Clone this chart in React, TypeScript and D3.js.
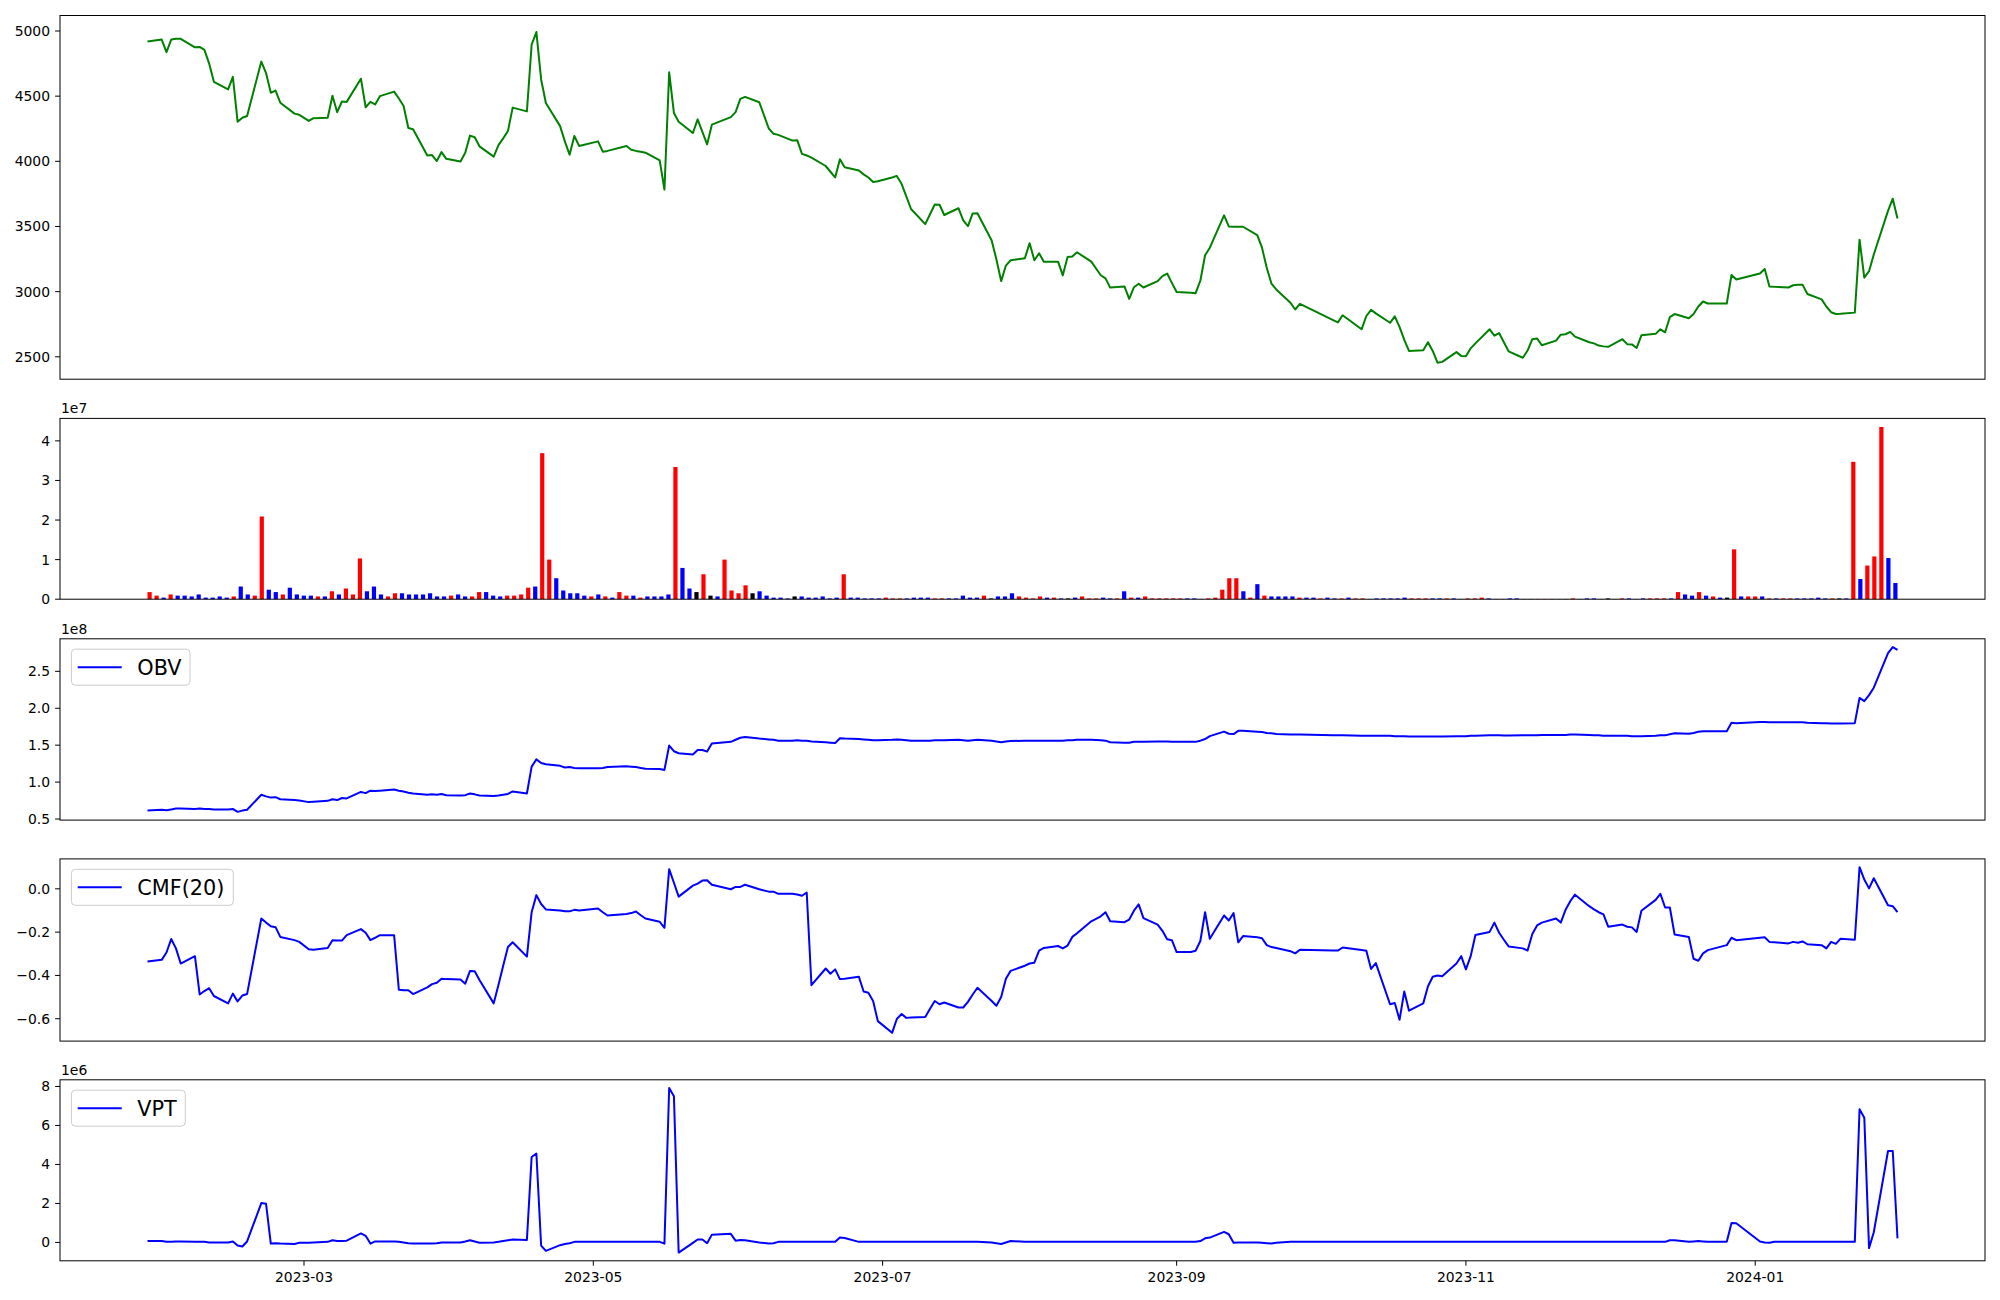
import * as d3 from 'd3';

const WIDTH = 2000;
const HEIGHT = 1300;
const LEFT = 60;
const RIGHT = 1985;
const FONT = 'DejaVu Sans, sans-serif';
const TICK_FONT = 13.9;
const LEGEND_FONT = 20.8;
const BAR_W = 0.6; // bar width in index units

// vertical extent of every panel
const PANELS = {
  price: { top: 15.5, bottom: 379.2 },
  volume: { top: 418.4, bottom: 599.2 },
  obv: { top: 638.8, bottom: 820.1 },
  cmf: { top: 858.9, bottom: 1041.1 },
  vpt: { top: 1079.8, bottom: 1260.8 },
};

// trading calendar (KRX)
const FIRST_DAY = '2023-01-27';
const LAST_DAY = '2024-01-31';
const HOLIDAYS = [
  '2023-03-01', '2023-05-01', '2023-05-05', '2023-05-29', '2023-06-06', '2023-08-15',
  '2023-09-28', '2023-09-29', '2023-10-02', '2023-10-03', '2023-10-09', '2023-12-25',
  '2023-12-29', '2024-01-01',
];
const X_TICKS = ['2023-03-01', '2023-05-01', '2023-07-01', '2023-09-01', '2023-11-01', '2024-01-01'];

// close price
const PRICE = [
  4919, 4934, 4838, 4934, 4940, 4940, 4875, 4878, 4855, 4750,
  4610, 4552, 4648, 4304, 4334, 4348, 4765, 4677, 4526, 4543,
  4450, 4366, 4357, 4310, 4331, 4334, 4503, 4377, 4459, 4456,
  4634, 4415, 4456, 4436, 4500, 4535, 4482, 4424, 4255, 4246,
  4045, 4048, 4002, 4071, 4019, 3999, 4066, 4197, 4185, 4115,
  4036, 4124, 4176, 4232, 4412, 4383, 4896, 4992, 4628, 4447,
  4270, 4153, 4051, 4194, 4118, 4153, 4074, 4080, 4118, 4089,
  4080, 4074, 4066, 4007, 3783, 4683, 4371, 4304, 4217, 4322,
  4226, 4130, 4281, 4339, 4377, 4479, 4494, 4453, 4252, 4211,
  4203, 4159, 4162, 4057, 4045, 4028, 3964, 3920, 3876, 4016,
  3955, 3929, 3900, 3876, 3841, 3847, 3876, 3888, 3827, 3731,
  3634, 3518, 3594, 3669, 3667, 3588, 3640, 3547, 3503, 3600,
  3602, 3393, 3247, 3081, 3200, 3241, 3256, 3372, 3241, 3294,
  3230, 3230, 3125, 3265, 3270, 3302, 3230, 3126, 3102, 3031,
  3040, 2944, 3034, 3061, 3032, 3081, 3119, 3139, 3067, 2997,
  2991, 2988, 3084, 3279, 3337, 3585, 3500, 3498, 3498, 3498,
  3434, 3337, 3183, 3061, 3017, 2915, 2863, 2906, 2781, 2764,
  2819, 2711, 2813, 2860, 2833, 2761, 2810, 2730, 2630, 2545,
  2551, 2612, 2545, 2455, 2461, 2536, 2507, 2504, 2565, 2603,
  2711, 2662, 2682, 2612, 2542, 2493, 2548, 2635, 2641, 2589,
  2624, 2670, 2673, 2691, 2655, 2612, 2603, 2586, 2580, 2577,
  2635, 2597, 2595, 2568, 2665, 2676, 2711, 2688, 2804, 2828,
  2796, 2828, 2886, 2924, 2909, 2909, 3128, 3093, 3139, 3174,
  3040, 3037, 3032, 3049, 3052, 3052, 2982, 2941, 2886, 2842,
  2828, 2830, 2839, 3399, 3107, 3157, 3285, 3620, 3713, 3562,
];

// volume, millions of shares
const VOLUME_M = [
  1.8, 0.9, 0.4, 1.2, 0.9, 0.9, 0.7, 1.2, 0.4, 0.4,
  0.7, 0.4, 0.7, 3.2, 1.2, 0.9, 20.9, 2.4, 1.8, 1.2,
  2.9, 1.2, 0.9, 0.9, 0.7, 0.7, 2.0, 1.2, 2.7, 1.2,
  10.3, 2.0, 3.2, 1.2, 0.7, 1.5, 1.5, 1.2, 1.2, 1.2,
  1.5, 0.7, 0.7, 0.9, 1.2, 0.7, 0.7, 1.8, 1.8, 0.9,
  0.7, 0.9, 0.9, 1.2, 2.9, 3.2, 36.9, 10.0, 5.3, 2.2,
  1.5, 1.5, 0.9, 0.7, 1.2, 0.7, 0.4, 1.8, 0.9, 0.9,
  0.4, 0.7, 0.7, 0.7, 1.2, 33.4, 7.9, 2.7, 1.8, 6.3,
  0.9, 0.7, 10.0, 2.2, 1.5, 3.5, 1.5, 2.0, 0.9, 0.4,
  0.4, 0.2, 0.7, 0.7, 0.4, 0.4, 0.7, 0.2, 0.4, 6.3,
  0.4, 0.4, 0.2, 0.2, 0.2, 0.4, 0.2, 0.2, 0.2, 0.4,
  0.4, 0.4, 0.2, 0.2, 0.2, 0.2, 0.9, 0.4, 0.4, 0.9,
  0.2, 0.7, 0.7, 1.5, 0.7, 0.4, 0.2, 0.7, 0.4, 0.4,
  0.2, 0.2, 0.4, 0.7, 0.2, 0.2, 0.4, 0.2, 0.2, 2.0,
  0.4, 0.4, 0.7, 0.2, 0.2, 0.2, 0.2, 0.2, 0.2, 0.2,
  0.05, 0.2, 0.4, 2.4, 5.3, 5.3, 2.0, 0.4, 3.8, 0.9,
  0.7, 0.7, 0.7, 0.7, 0.4, 0.4, 0.4, 0.2, 0.4, 0.2,
  0.2, 0.4, 0.2, 0.2, 0.05, 0.2, 0.2, 0.2, 0.2, 0.4,
  0.2, 0.2, 0.2, 0.2, 0.2, 0.2, 0.2, 0.05, 0.2, 0.2,
  0.4, 0.2, 0.05, 0.05, 0.2, 0.2, 0.05, 0.05, 0.05, 0.05,
  0.05, 0.05, 0.05, 0.2, 0.05, 0.2, 0.2, 0.05, 0.2, 0.05,
  0.2, 0.2, 0.05, 0.2, 0.2, 0.2, 0.2, 0.2, 1.8, 1.2,
  0.9, 1.8, 0.9, 0.7, 0.4, 0.4, 12.6, 0.7, 0.7, 0.7,
  0.7, 0.2, 0.2, 0.2, 0.2, 0.2, 0.2, 0.2, 0.4, 0.2,
  0.2, 0.2, 0.2, 34.7, 5.1, 8.5, 10.8, 43.5, 10.4, 4.1,
];

// bar colour per day: r = up, b = down, k = flat
const BAR_KIND = [
  'rrbrbbbbbb', 'bbrbbrrbbr', 'bbbbrbrbrr', 'rbbbrrbbbb', 'bbbrbbrrbb',
  'brrrrbrrbb', 'bbbrbrbrrb', 'rbbbbrbbkr', 'kbrrrrkbbb', 'bbkbbbbbbr',
  'bbbbbrrrbb', 'bbrrbbbbbr', 'kbbbrrrrbr', 'bkbrrrbbrb', 'rbrrrrrrbb',
  'brrrrrbrbr', 'bbbbrbbrbb', 'rbrrbbbbbb', 'rrrbbrbbrr', 'rbbrbbrbrr',
  'rrbrbbbbkb', 'rbbbrrrbrb', 'brbrbkrbrr', 'brbrrbbbbb', 'rkbrbrrrbb',
].join('');
const KIND_COLOR: Record<string, string> = { r: '#ff0000', b: '#0000ff', k: '#000000' };

// on-balance volume, 1e8
const OBV_E8 = [
  0.614, 0.625, 0.619, 0.630, 0.641, 0.641, 0.636, 0.641, 0.636, 0.636,
  0.630, 0.630, 0.636, 0.597, 0.614, 0.625, 0.829, 0.807, 0.790, 0.796,
  0.768, 0.757, 0.752, 0.729, 0.735, 0.746, 0.768, 0.757, 0.785, 0.779,
  0.867, 0.851, 0.884, 0.878, 0.884, 0.900, 0.884, 0.873, 0.856, 0.845,
  0.829, 0.834, 0.829, 0.840, 0.823, 0.818, 0.823, 0.845, 0.834, 0.818,
  0.812, 0.818, 0.829, 0.840, 0.873, 0.845, 1.209, 1.308, 1.258, 1.242,
  1.220, 1.198, 1.203, 1.192, 1.187, 1.187, 1.192, 1.203, 1.214, 1.209,
  1.203, 1.192, 1.181, 1.176, 1.165, 1.495, 1.418, 1.391, 1.374, 1.435,
  1.435, 1.413, 1.523, 1.545, 1.573, 1.600, 1.611, 1.589, 1.578, 1.573,
  1.561, 1.561, 1.567, 1.561, 1.561, 1.550, 1.539, 1.534, 1.528, 1.594,
  1.589, 1.583, 1.578, 1.573, 1.567, 1.567, 1.573, 1.578, 1.573, 1.567,
  1.561, 1.561, 1.561, 1.567, 1.567, 1.567, 1.573, 1.567, 1.561, 1.567,
  1.573, 1.561, 1.550, 1.539, 1.550, 1.556, 1.561, 1.561, 1.561, 1.561,
  1.561, 1.561, 1.561, 1.567, 1.567, 1.573, 1.573, 1.567, 1.561, 1.539,
  1.534, 1.534, 1.545, 1.545, 1.545, 1.550, 1.550, 1.550, 1.545, 1.545,
  1.545, 1.545, 1.561, 1.583, 1.622, 1.683, 1.655, 1.650, 1.694, 1.694,
  1.683, 1.677, 1.666, 1.661, 1.650, 1.644, 1.644, 1.644, 1.633, 1.633,
  1.633, 1.627, 1.627, 1.627, 1.627, 1.627, 1.622, 1.622, 1.622, 1.616,
  1.616, 1.616, 1.616, 1.616, 1.616, 1.622, 1.622, 1.622, 1.627, 1.627,
  1.633, 1.633, 1.633, 1.630, 1.630, 1.633, 1.633, 1.633, 1.633, 1.638,
  1.638, 1.638, 1.638, 1.644, 1.644, 1.638, 1.633, 1.633, 1.627, 1.627,
  1.627, 1.627, 1.622, 1.622, 1.622, 1.627, 1.633, 1.633, 1.649, 1.661,
  1.655, 1.666, 1.683, 1.688, 1.688, 1.688, 1.804, 1.798, 1.815, 1.815,
  1.809, 1.809, 1.809, 1.809, 1.809, 1.809, 1.804, 1.798, 1.798, 1.793,
  1.793, 1.793, 1.798, 2.140, 2.096, 2.178, 2.278, 2.746, 2.829, 2.790,
];

// Chaikin money flow, 20 days
const CMF = [
  -0.336, -0.328, -0.294, -0.232, -0.275, -0.345, -0.311, -0.488, -0.472, -0.459,
  -0.495, -0.529, -0.484, -0.520, -0.493, -0.486, -0.137, -0.156, -0.173, -0.177,
  -0.222, -0.237, -0.245, -0.279, -0.281, -0.273, -0.237, -0.239, -0.239, -0.214,
  -0.186, -0.203, -0.237, -0.226, -0.214, -0.214, -0.466, -0.468, -0.468, -0.486,
  -0.455, -0.440, -0.434, -0.415, -0.417, -0.419, -0.438, -0.379, -0.381, -0.421,
  -0.529, -0.444, -0.355, -0.269, -0.247, -0.313, -0.108, -0.029, -0.070, -0.095,
  -0.100, -0.104, -0.104, -0.097, -0.100, -0.091, -0.108, -0.123, -0.116, -0.112,
  -0.105, -0.122, -0.137, -0.152, -0.180, 0.091, 0.028, -0.036, 0.015, 0.024,
  0.038, 0.040, 0.019, -0.002, 0.009, 0.009, 0.019, -0.002, -0.013, -0.013,
  -0.023, -0.023, -0.026, -0.032, -0.017, -0.445, -0.368, -0.392, -0.372, -0.417,
  -0.415, -0.406, -0.474, -0.480, -0.518, -0.611, -0.665, -0.601, -0.578, -0.596,
  -0.594, -0.592, -0.554, -0.518, -0.533, -0.525, -0.548, -0.548, -0.522, -0.488,
  -0.457, -0.518, -0.540, -0.500, -0.415, -0.379, -0.355, -0.345, -0.341, -0.285,
  -0.273, -0.264, -0.275, -0.262, -0.222, -0.205, -0.150, -0.127, -0.108, -0.150,
  -0.154, -0.142, -0.101, -0.072, -0.135, -0.165, -0.194, -0.233, -0.237, -0.292,
  -0.292, -0.286, -0.241, -0.108, -0.231, -0.123, -0.146, -0.112, -0.247, -0.218,
  -0.224, -0.228, -0.260, -0.269, -0.273, -0.288, -0.298, -0.281, -0.285, -0.285,
  -0.271, -0.283, -0.286, -0.370, -0.343, -0.533, -0.527, -0.605, -0.474, -0.563,
  -0.529, -0.450, -0.406, -0.400, -0.404, -0.345, -0.311, -0.372, -0.311, -0.213,
  -0.199, -0.156, -0.203, -0.235, -0.266, -0.275, -0.285, -0.209, -0.169, -0.156,
  -0.137, -0.156, -0.097, -0.057, -0.027, -0.080, -0.095, -0.108, -0.118, -0.175,
  -0.165, -0.175, -0.178, -0.199, -0.101, -0.051, -0.023, -0.086, -0.086, -0.211,
  -0.222, -0.323, -0.332, -0.298, -0.283, -0.260, -0.226, -0.237, -0.226, -0.224,
  -0.245, -0.247, -0.252, -0.245, -0.249, -0.243, -0.256, -0.260, -0.275, -0.245,
  -0.254, -0.230, -0.235, 0.100, 0.043, 0.002, 0.049, -0.076, -0.080, -0.108,
];

// volume price trend, 1e6
const VPT_E6 = [
  0.07, 0.07, 0.03, 0.03, 0.05, 0.05, 0.03, 0.03, 0.03, 0.00,
  0.00, 0.00, 0.05, -0.16, -0.21, 0.05, 2.02, 1.98, -0.06, -0.04,
  -0.06, -0.08, -0.02, -0.02, 0.00, 0.03, 0.11, 0.07, 0.07, 0.09,
  0.46, 0.34, -0.06, 0.05, 0.05, 0.05, 0.03, 0.00, -0.04, -0.06,
  -0.06, -0.06, -0.04, 0.00, 0.00, 0.00, 0.05, 0.11, 0.05, -0.02,
  0.00, 0.03, 0.07, 0.11, 0.15, 0.13, 4.38, 4.56, -0.16, -0.43,
  -0.14, -0.08, -0.04, 0.03, 0.03, 0.03, 0.03, 0.03, 0.03, 0.03,
  0.03, 0.03, 0.03, 0.03, -0.06, 7.92, 7.50, -0.52, -0.02, 0.15,
  0.15, -0.04, 0.40, 0.44, 0.09, 0.13, 0.11, 0.00, -0.06, -0.04,
  0.03, 0.03, 0.03, 0.03, 0.03, 0.03, 0.03, 0.03, 0.03, 0.25,
  0.23, 0.03, 0.03, 0.03, 0.03, 0.03, 0.03, 0.03, 0.03, 0.03,
  0.03, 0.03, 0.03, 0.03, 0.03, 0.03, 0.03, 0.03, 0.03, 0.03,
  0.03, 0.00, -0.04, -0.08, 0.00, 0.07, 0.03, 0.03, 0.03, 0.03,
  0.03, 0.03, 0.03, 0.03, 0.03, 0.03, 0.03, 0.03, 0.03, 0.03,
  0.03, 0.03, 0.03, 0.03, 0.03, 0.03, 0.03, 0.03, 0.03, 0.03,
  0.03, 0.03, 0.07, 0.21, 0.25, 0.54, 0.42, -0.02, 0.00, 0.00,
  0.00, -0.02, -0.04, -0.06, -0.02, 0.03, 0.03, 0.03, 0.03, 0.03,
  0.03, 0.03, 0.03, 0.03, 0.03, 0.03, 0.03, 0.03, 0.03, 0.03,
  0.03, 0.03, 0.03, 0.03, 0.03, 0.03, 0.03, 0.03, 0.03, 0.03,
  0.03, 0.03, 0.03, 0.03, 0.03, 0.03, 0.03, 0.03, 0.03, 0.03,
  0.03, 0.03, 0.03, 0.03, 0.03, 0.03, 0.03, 0.03, 0.03, 0.03,
  0.03, 0.03, 0.03, 0.03, 0.03, 0.03, 0.03, 0.03, 0.11, 0.11,
  0.03, 0.05, 0.07, 0.05, 0.03, 0.03, 1.00, 0.98, 0.05, 0.00,
  -0.02, 0.03, 0.03, 0.03, 0.03, 0.03, 0.03, 0.03, 0.03, 0.03,
  0.03, 0.03, 0.03, 6.83, 6.40, -0.29, 0.52, 4.69, 4.69, 0.21,
];

const PRICE_TICKS = [2500, 3000, 3500, 4000, 4500, 5000];
const VOLUME_TICKS = [0, 1, 2, 3, 4]; // 1e7
const OBV_TICKS = [0.5, 1.0, 1.5, 2.0, 2.5]; // 1e8
const CMF_TICKS = [-0.6, -0.4, -0.2, 0.0];
const VPT_TICKS = [0, 2, 4, 6, 8]; // 1e6

const parseDay = d3.utcParse('%Y-%m-%d');
const fmtDay = d3.utcFormat('%Y-%m-%d');

const DATES: Date[] = d3.utcDay
  .range(parseDay(FIRST_DAY)!, d3.utcDay.offset(parseDay(LAST_DAY)!, 1))
  .filter((d) => d.getUTCDay() % 6 !== 0 && !HOLIDAYS.includes(fmtDay(d)));

// matplotlib style 5% padding
const padded = (vals: number[]): [number, number] => {
  const [lo, hi] = d3.extent(vals) as [number, number];
  const m = (hi - lo) * 0.05;
  return [lo - m, hi + m];
};

type Scale = d3.ScaleLinear<number, number>;

const YAxis = ({ y, ticks, format }: { y: Scale; ticks: number[]; format: (v: number) => string }) => (
  <g>
    {ticks.map((t) => (
      <g key={t}>
        <line x1={LEFT - 4.9} x2={LEFT} y1={y(t)} y2={y(t)} stroke="#000" strokeWidth={1} />
        <text x={LEFT - 10} y={y(t) + 5} textAnchor="end" fontSize={TICK_FONT}>
          {format(t)}
        </text>
      </g>
    ))}
  </g>
);

const Legend = ({ top, label, width }: { top: number; label: string; width: number }) => (
  <g>
    <rect
      x={LEFT + 11.4}
      y={top + 10.4}
      width={width}
      height={36}
      rx={4}
      fill="#ffffff"
      fillOpacity={0.8}
      stroke="#cccccc"
      strokeWidth={1}
    />
    <line x1={LEFT + 17.7} x2={LEFT + 61.7} y1={top + 28.4} y2={top + 28.4} stroke="#0000ff" strokeWidth={2} />
    <text x={LEFT + 77.3} y={top + 36} fontSize={LEGEND_FONT}>
      {label}
    </text>
  </g>
);

const Frame = ({ top, bottom }: { top: number; bottom: number }) => (
  <rect x={LEFT} y={top} width={RIGHT - LEFT} height={bottom - top} fill="none" stroke="#000" strokeWidth={1} />
);

const OffsetLabel = ({ top, text }: { top: number; text: string }) => (
  <text x={LEFT + 1} y={top - 5} fontSize={TICK_FONT}>
    {text}
  </text>
);

const App = () => {
  const [t0, t1] = d3.extent(DATES) as [Date, Date];
  const span = +t1 - +t0;
  const x = d3
    .scaleUtc()
    .domain([new Date(+t0 - span * 0.05), new Date(+t1 + span * 0.05)])
    .range([LEFT, RIGHT]);

  // volume bars sit on their own index axis
  const n = VOLUME_M.length;
  const barSpan = n - 1 + BAR_W;
  const xi = d3
    .scaleLinear()
    .domain([-BAR_W / 2 - barSpan * 0.05, n - 1 + BAR_W / 2 + barSpan * 0.05])
    .range([LEFT, RIGHT]);

  const volume = VOLUME_M.map((v) => v * 1e6);

  const yPrice = d3.scaleLinear().domain(padded(PRICE)).range([PANELS.price.bottom, PANELS.price.top]);
  const yVol = d3
    .scaleLinear()
    .domain([0, (d3.max(volume) ?? 1) * 1.05])
    .range([PANELS.volume.bottom, PANELS.volume.top]);
  const yObv = d3.scaleLinear().domain(padded(OBV_E8)).range([PANELS.obv.bottom, PANELS.obv.top]);
  const yCmf = d3.scaleLinear().domain(padded(CMF)).range([PANELS.cmf.bottom, PANELS.cmf.top]);
  const yVpt = d3.scaleLinear().domain(padded(VPT_E6)).range([PANELS.vpt.bottom, PANELS.vpt.top]);

  const pathFor = (vals: number[], y: Scale) =>
    d3
      .line<number>()
      .x((_, i) => x(DATES[i]))
      .y((d) => y(d))(vals) ?? '';

  const barW = xi(BAR_W) - xi(0);

  return (
    <svg
      width={WIDTH}
      height={HEIGHT}
      style={{ position: 'absolute', left: 0, top: 0, background: '#fff' }}
      fontFamily={FONT}
    >
      <rect width={WIDTH} height={HEIGHT} fill="#fff" />

      {/* price */}
      <path d={pathFor(PRICE, yPrice)} fill="none" stroke="#008000" strokeWidth={2} strokeLinejoin="round" />
      <Frame {...PANELS.price} />
      <YAxis y={yPrice} ticks={PRICE_TICKS} format={d3.format('d')} />

      {/* volume */}
      {volume.map((v, i) => (
        <rect
          key={i}
          x={xi(i) - barW / 2}
          y={yVol(v)}
          width={barW}
          height={yVol(0) - yVol(v)}
          fill={KIND_COLOR[BAR_KIND[i]]}
        />
      ))}
      <Frame {...PANELS.volume} />
      <YAxis y={yVol} ticks={VOLUME_TICKS.map((t) => t * 1e7)} format={(v) => d3.format('d')(v / 1e7)} />
      <OffsetLabel top={PANELS.volume.top} text="1e7" />

      {/* OBV */}
      <path d={pathFor(OBV_E8, yObv)} fill="none" stroke="#0000ff" strokeWidth={2} strokeLinejoin="round" />
      <Frame {...PANELS.obv} />
      <YAxis y={yObv} ticks={OBV_TICKS} format={d3.format('.1f')} />
      <OffsetLabel top={PANELS.obv.top} text="1e8" />
      <Legend top={PANELS.obv.top} label="OBV" width={118.6} />

      {/* CMF */}
      <path d={pathFor(CMF, yCmf)} fill="none" stroke="#0000ff" strokeWidth={2} strokeLinejoin="round" />
      <Frame {...PANELS.cmf} />
      <YAxis y={yCmf} ticks={CMF_TICKS} format={d3.format('.1f')} />
      <Legend top={PANELS.cmf.top} label="CMF(20)" width={161.9} />

      {/* VPT */}
      <path d={pathFor(VPT_E6, yVpt)} fill="none" stroke="#0000ff" strokeWidth={2} strokeLinejoin="round" />
      <Frame {...PANELS.vpt} />
      <YAxis y={yVpt} ticks={VPT_TICKS} format={d3.format('d')} />
      <OffsetLabel top={PANELS.vpt.top} text="1e6" />
      <Legend top={PANELS.vpt.top} label="VPT" width={113.9} />

      {/* shared date axis */}
      {X_TICKS.map((s) => {
        const d = parseDay(s)!;
        return (
          <g key={s}>
            <line x1={x(d)} x2={x(d)} y1={PANELS.vpt.bottom} y2={PANELS.vpt.bottom + 4.9} stroke="#000" strokeWidth={1} />
            <text x={x(d)} y={PANELS.vpt.bottom + 21.5} textAnchor="middle" fontSize={TICK_FONT}>
              {d3.utcFormat('%Y-%m')(d)}
            </text>
          </g>
        );
      })}
    </svg>
  );
};

export default App;
